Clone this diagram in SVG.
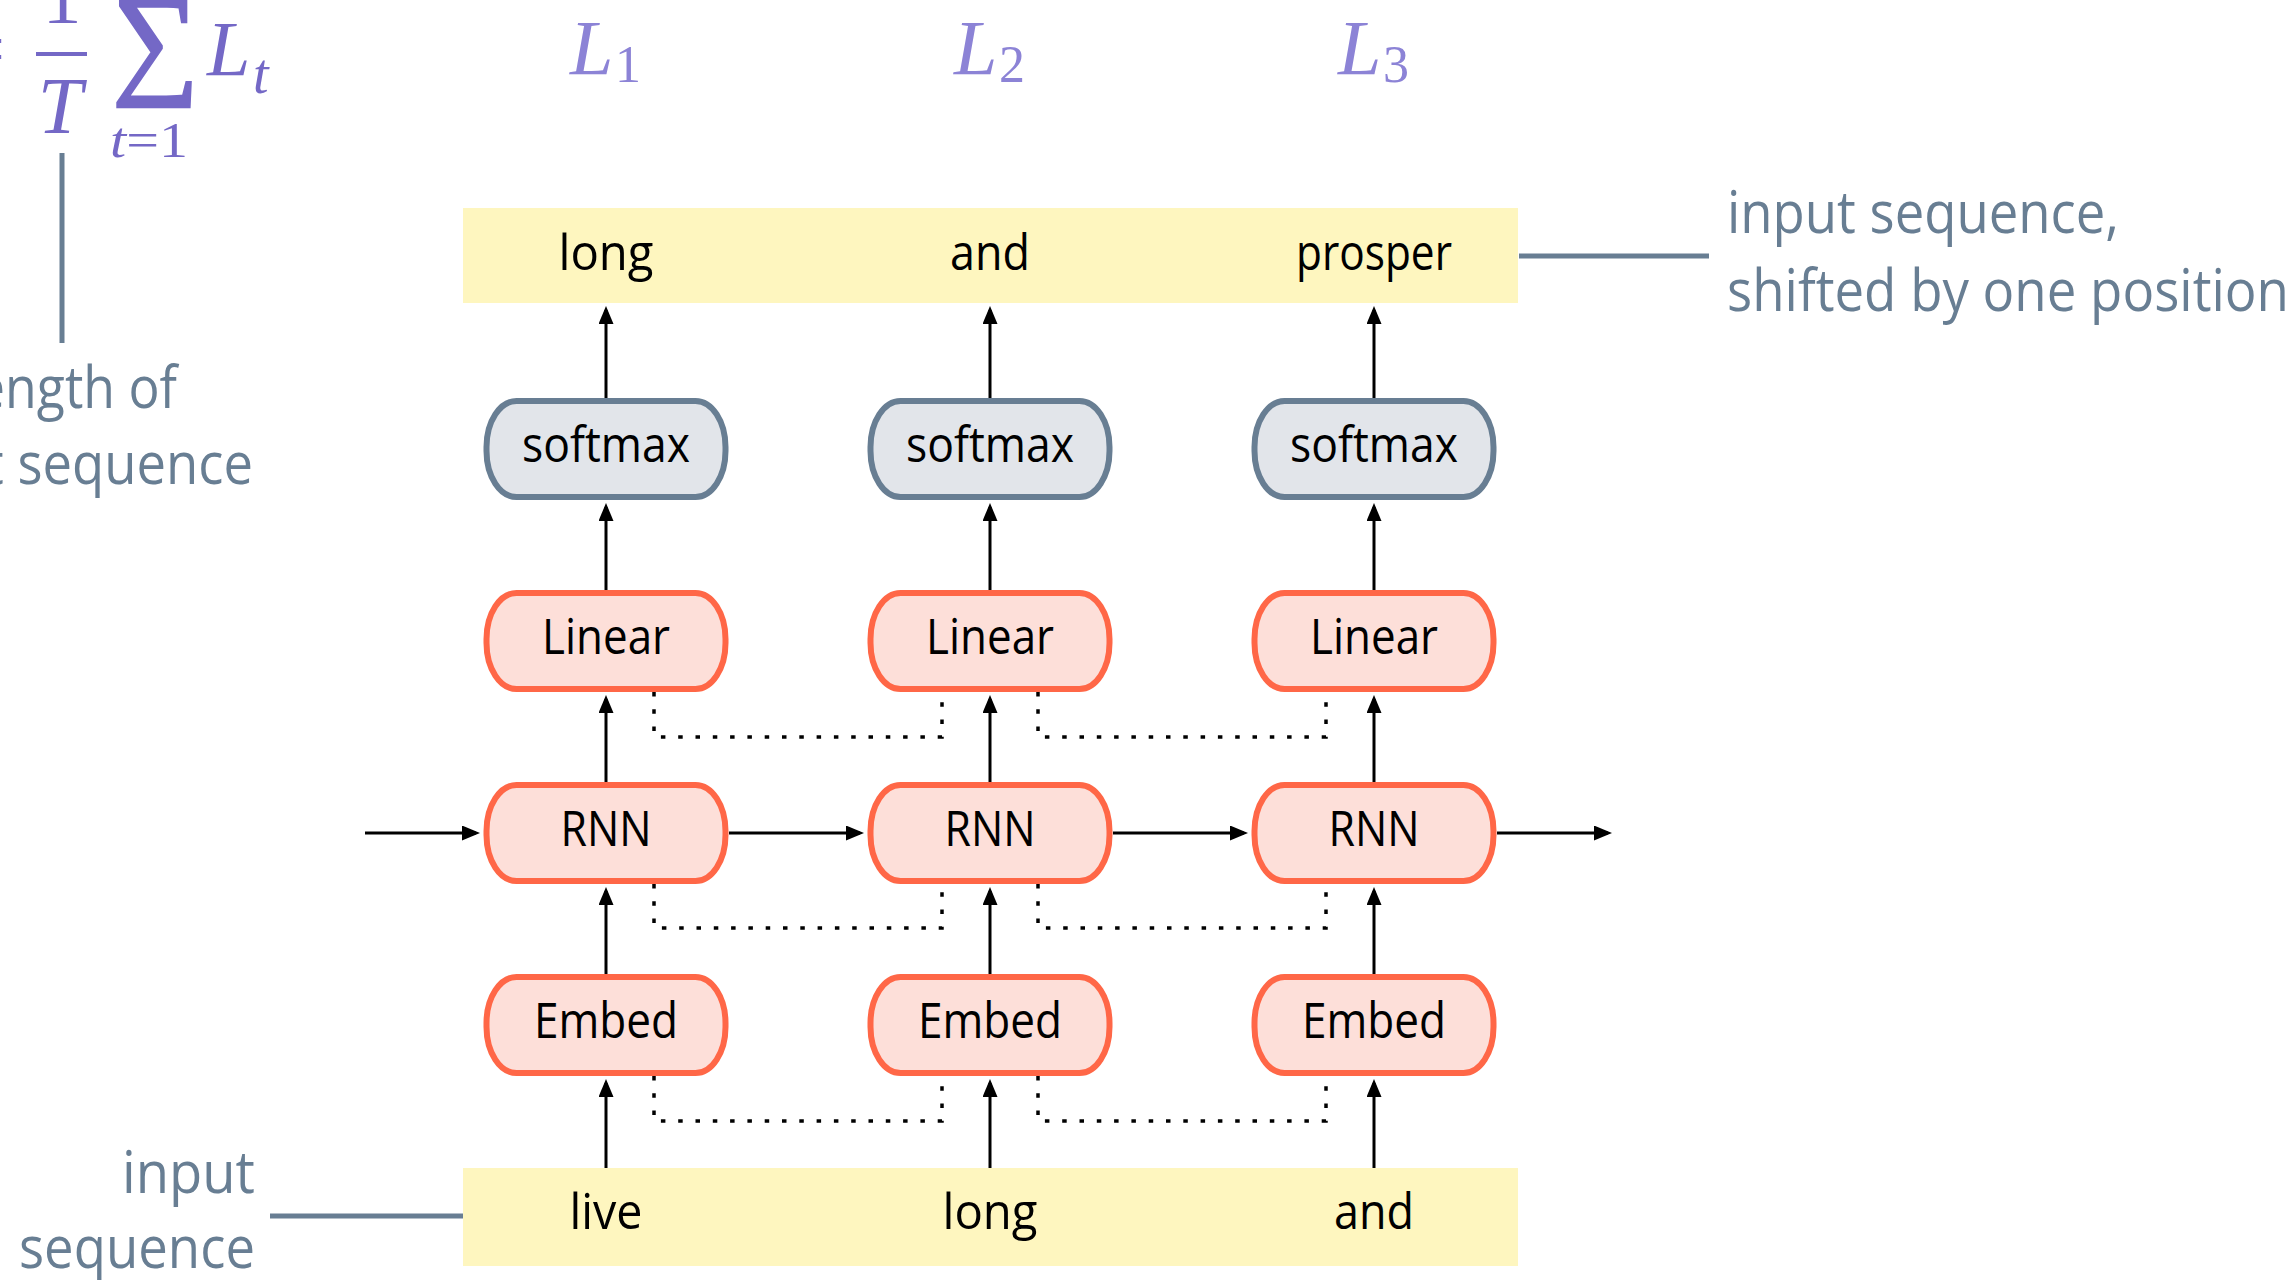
<svg xmlns="http://www.w3.org/2000/svg" width="2295" height="1280" viewBox="0 0 2295 1280">
<defs>
<marker id="ah" markerUnits="userSpaceOnUse" markerWidth="18" markerHeight="15" refX="14" refY="7.5" orient="auto">
<path d="M0,0 L18,7.5 L0,15 Z" fill="#000"/>
</marker>
<style>
.band{fill:#FEF6BF}
.node-o rect{fill:#FDDFD9;stroke:#FF6747;stroke-width:6}
.node-g rect{fill:#E2E5EA;stroke:#687E93;stroke-width:6}
.lbl{font-family:'Open Sans','Liberation Sans',sans-serif;font-size:50px;fill:#000;text-anchor:middle}
.gray{font-family:'Open Sans','Liberation Sans',sans-serif;font-size:58px;fill:#687E93}
.math{font-family:'Liberation Serif','DejaVu Serif',serif;fill:#7468C6}
.mathl{font-family:'Liberation Serif','DejaVu Serif',serif;fill:#8C83D6}
.it{font-style:italic}
.arrow{stroke:#000;stroke-width:3;fill:none;marker-end:url(#ah)}
.dot{stroke:#000;stroke-width:3.5;stroke-dasharray:4.5 12.8;fill:none}
.lead{stroke:#687E93;stroke-width:5;fill:none}
</style>
</defs>
<rect width="2295" height="1280" fill="#fff"/>

<g id="formula">
<text class="math" x="-39" y="75" font-size="78">=</text>
<text class="math" x="62" y="22" font-size="78" text-anchor="middle">1</text>
<rect x="36" y="52" width="51" height="4" fill="#7468C6"/>
<text class="math it" x="60" y="133" font-size="80" text-anchor="middle">T</text>
<text class="math" x="112" y="81" font-size="122" stroke="#7468C6" stroke-width="2.5">∑</text>
<text class="math" x="110" y="157" font-size="50" textLength="78" lengthAdjust="spacingAndGlyphs"><tspan class="it">t</tspan>=1</text>
<text class="math it" x="207" y="75" font-size="78">L</text>
<text class="math it" x="253" y="93" font-size="56">t</text>
</g>

<g id="losses">
<text class="mathl it" x="570" y="74" font-size="78">L</text>
<text class="mathl" x="615" y="82" font-size="52">1</text>
<text class="mathl it" x="954" y="74" font-size="78">L</text>
<text class="mathl" x="999" y="82" font-size="52">2</text>
<text class="mathl it" x="1338" y="74" font-size="78">L</text>
<text class="mathl" x="1383" y="82" font-size="52">3</text>
</g>

<g id="target-sequence">
<rect class="band" x="463" y="208" width="1055" height="95"/>
<text class="lbl" x="606" y="269.5" textLength="95" lengthAdjust="spacingAndGlyphs">long</text>
<text class="lbl" x="990" y="269.5" textLength="80" lengthAdjust="spacingAndGlyphs">and</text>
<text class="lbl" x="1374" y="269.5" textLength="156" lengthAdjust="spacingAndGlyphs">prosper</text>
</g>

<g id="input-sequence">
<rect class="band" x="463" y="1168" width="1055" height="98"/>
<text class="lbl" x="606" y="1229" textLength="73" lengthAdjust="spacingAndGlyphs">live</text>
<text class="lbl" x="990" y="1229" textLength="95" lengthAdjust="spacingAndGlyphs">long</text>
<text class="lbl" x="1374" y="1229" textLength="80" lengthAdjust="spacingAndGlyphs">and</text>
</g>

<g id="annotations">
<line class="lead" x1="62" y1="153" x2="62" y2="343"/>
<text class="gray" x="-37" y="408" textLength="214" lengthAdjust="spacingAndGlyphs">length of</text>
<text class="gray" x="-125" y="484" textLength="378" lengthAdjust="spacingAndGlyphs">input sequence</text>
<line class="lead" x1="1519" y1="256" x2="1709" y2="256"/>
<text class="gray" x="1727" y="233" textLength="392" lengthAdjust="spacingAndGlyphs">input sequence,</text>
<text class="gray" x="1727" y="311" textLength="562" lengthAdjust="spacingAndGlyphs">shifted by one position</text>
<line class="lead" x1="270" y1="1216" x2="463" y2="1216"/>
<text class="gray" x="122" y="1193" textLength="133" lengthAdjust="spacingAndGlyphs">input</text>
<text class="gray" x="19" y="1268" textLength="236" lengthAdjust="spacingAndGlyphs">sequence</text>
</g>

<g id="connectors">
<path class="arrow" d="M606 1168V1083"/><path class="arrow" d="M990 1168V1083"/><path class="arrow" d="M1374 1168V1083"/>
<path class="arrow" d="M606 977V891"/><path class="arrow" d="M990 977V891"/><path class="arrow" d="M1374 977V891"/>
<path class="arrow" d="M606 785V699"/><path class="arrow" d="M990 785V699"/><path class="arrow" d="M1374 785V699"/>
<path class="arrow" d="M606 593V507"/><path class="arrow" d="M990 593V507"/><path class="arrow" d="M1374 593V507"/>
<path class="arrow" d="M606 401V310"/><path class="arrow" d="M990 401V310"/><path class="arrow" d="M1374 401V310"/>
<path class="arrow" d="M365 833H476"/>
<path class="arrow" d="M729 833H860"/>
<path class="arrow" d="M1113 833H1244"/>
<path class="arrow" d="M1497 833H1608"/>
<path class="dot" d="M654 692V737H942V692"/>
<path class="dot" d="M1038 692V737H1326V692"/>
<path class="dot" d="M654 884V928H942V884"/>
<path class="dot" d="M1038 884V928H1326V884"/>
<path class="dot" d="M654 1076V1121H942V1076"/>
<path class="dot" d="M1038 1076V1121H1326V1076"/>
</g>

<g id="softmax-1" class="node-g"><rect x="486.5" y="401" width="239" height="96" rx="30" ry="46"/><text class="lbl" x="606" y="461.5" textLength="168" lengthAdjust="spacingAndGlyphs">softmax</text></g>
<g id="softmax-2" class="node-g"><rect x="870.5" y="401" width="239" height="96" rx="30" ry="46"/><text class="lbl" x="990" y="461.5" textLength="168" lengthAdjust="spacingAndGlyphs">softmax</text></g>
<g id="softmax-3" class="node-g"><rect x="1254.5" y="401" width="239" height="96" rx="30" ry="46"/><text class="lbl" x="1374" y="461.5" textLength="168" lengthAdjust="spacingAndGlyphs">softmax</text></g>

<g id="linear-1" class="node-o"><rect x="486.5" y="593" width="239" height="96" rx="30" ry="46"/><text class="lbl" x="606" y="653.5" textLength="128" lengthAdjust="spacingAndGlyphs">Linear</text></g>
<g id="linear-2" class="node-o"><rect x="870.5" y="593" width="239" height="96" rx="30" ry="46"/><text class="lbl" x="990" y="653.5" textLength="128" lengthAdjust="spacingAndGlyphs">Linear</text></g>
<g id="linear-3" class="node-o"><rect x="1254.5" y="593" width="239" height="96" rx="30" ry="46"/><text class="lbl" x="1374" y="653.5" textLength="128" lengthAdjust="spacingAndGlyphs">Linear</text></g>

<g id="rnn-1" class="node-o"><rect x="486.5" y="785" width="239" height="96" rx="30" ry="46"/><text class="lbl" x="606" y="845.5" textLength="91" lengthAdjust="spacingAndGlyphs">RNN</text></g>
<g id="rnn-2" class="node-o"><rect x="870.5" y="785" width="239" height="96" rx="30" ry="46"/><text class="lbl" x="990" y="845.5" textLength="91" lengthAdjust="spacingAndGlyphs">RNN</text></g>
<g id="rnn-3" class="node-o"><rect x="1254.5" y="785" width="239" height="96" rx="30" ry="46"/><text class="lbl" x="1374" y="845.5" textLength="91" lengthAdjust="spacingAndGlyphs">RNN</text></g>

<g id="embed-1" class="node-o"><rect x="486.5" y="977" width="239" height="96" rx="30" ry="46"/><text class="lbl" x="606" y="1037.5" textLength="144" lengthAdjust="spacingAndGlyphs">Embed</text></g>
<g id="embed-2" class="node-o"><rect x="870.5" y="977" width="239" height="96" rx="30" ry="46"/><text class="lbl" x="990" y="1037.5" textLength="144" lengthAdjust="spacingAndGlyphs">Embed</text></g>
<g id="embed-3" class="node-o"><rect x="1254.5" y="977" width="239" height="96" rx="30" ry="46"/><text class="lbl" x="1374" y="1037.5" textLength="144" lengthAdjust="spacingAndGlyphs">Embed</text></g>
</svg>
